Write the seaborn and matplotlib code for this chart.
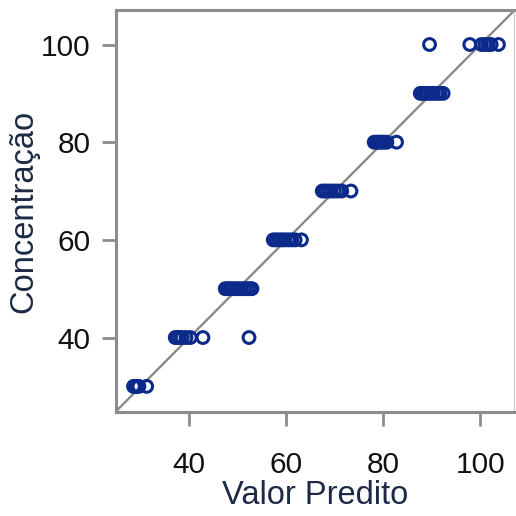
import matplotlib
matplotlib.use("Agg")
import matplotlib.pyplot as plt
import seaborn as sns
import pandas as pd

# Predicted values grouped by known concentration level
conc_30 = [28.5, 28.8, 29.2, 29.6, 31.2]
conc_40 = [37.1, 37.5, 37.9, 38.5, 39.3, 40.2, 42.8, 52.3]
conc_50 = [47.4, 47.9, 48.4, 48.9, 49.5, 50.1, 50.7, 51.3, 51.9, 52.5, 52.9]
conc_60 = [57.3, 57.9, 58.5, 59.1, 59.7, 60.4, 61.1, 61.8, 63.1]
conc_70 = [67.4, 68.0, 68.6, 69.2, 69.9, 70.6, 71.4, 73.3]
conc_80 = [78.1, 78.5, 78.9, 79.3, 79.7, 80.2, 80.7, 82.7]
conc_90 = [87.6, 88.1, 88.6, 89.1, 89.7, 90.3, 91.0, 91.6, 92.3]
conc_100 = [89.5, 97.8, 100.2, 100.9, 101.6, 102.2, 103.7]

levels = [30, 40, 50, 60, 70, 80, 90, 100]
predicted = [conc_30, conc_40, conc_50, conc_60, conc_70, conc_80, conc_90, conc_100]

x_ticks = [40, 60, 80, 100]
y_ticks = [40, 60, 80, 100]

rows = []
for lvl, preds in zip(levels, predicted):
    for p in preds:
        rows.append({"Valor Predito": p, "Concentração": lvl})
df = pd.DataFrame(rows)

sns.set_style("white")
plt.rcParams["font.family"] = ["Liberation Sans", "DejaVu Sans"]

fig = plt.figure(figsize=(5.16, 5.16), dpi=100)
ax = fig.add_axes([0.224, 0.202, 0.773, 0.778])

lim = (24.8, 107.0)
ax.axline((lim[0], lim[0]), slope=1, color="#8a8a8a", lw=1.7, zorder=1)

sns.scatterplot(data=df, x="Valor Predito", y="Concentração", ax=ax,
                marker="o", s=72, facecolor="none", edgecolor="#0b2a8a",
                linewidth=2.2, zorder=3)

ax.set_xlim(*lim)
ax.set_ylim(*lim)
ax.set_xticks(x_ticks)
ax.set_yticks(y_ticks)

for side in ["left", "bottom", "top"]:
    ax.spines[side].set_color("#8c8c8c")
    ax.spines[side].set_linewidth(2.2)
ax.spines["right"].set_color("#d0d0d0")
ax.spines["right"].set_linewidth(1.0)

ax.tick_params(axis="both", which="major", direction="out", length=10,
               width=2.0, color="#8c8c8c", labelsize=21.5, labelcolor="#111111",
               left=True, bottom=True)
ax.tick_params(axis="x", pad=18)
ax.tick_params(axis="y", pad=8)

ax.set_xlabel("Valor Predito", fontsize=23.5, color="#1c2a45", labelpad=1)
ax.set_ylabel("Concentração", fontsize=23.5, color="#1c2a45", labelpad=1)

fig.savefig("out.png", dpi=100)
